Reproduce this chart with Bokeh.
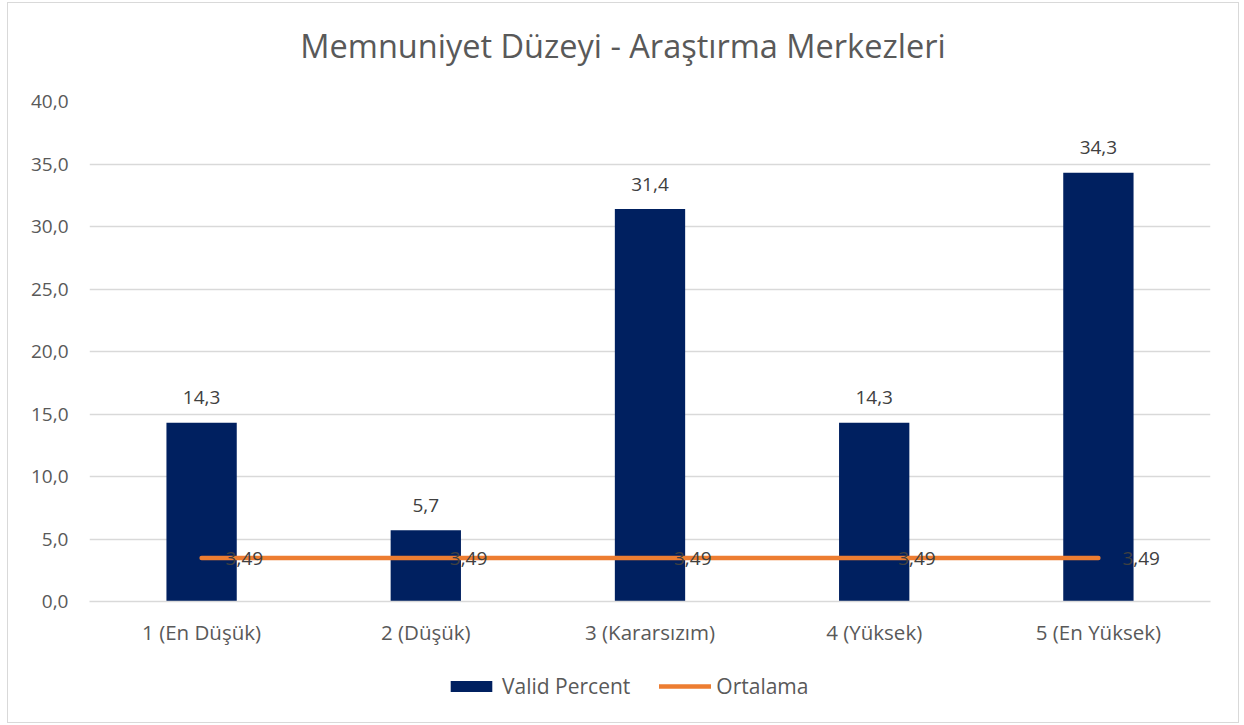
from bokeh.plotting import figure
from bokeh.layouts import column
from bokeh.models import (ColumnDataSource, FactorRange, Legend, LegendItem, CustomJSTickFormatter,
                          FixedTicker, Range1d, Div)
from bokeh.core.properties import value
from bokeh.embed import file_html
from bokeh.resources import INLINE

categories = ["1 (En Düşük)", "2 (Düşük)", "3 (Kararsızım)", "4 (Yüksek)", "5 (En Yüksek)"]
valid_percent = [14.3, 5.7, 31.4, 14.3, 34.3]
ortalama = [3.49, 3.49, 3.49, 3.49, 3.49]
y_ticks = [0, 5, 10, 15, 20, 25, 30, 35, 40]
title_text = "Memnuniyet Düzeyi - Araştırma Merkezleri"

FONT = "Open Sans"
GRAY = "#595959"
LABEL = "#404040"
BAR = "#002060"
ORANGE = "#ED7D31"

src = ColumnDataSource(dict(
    cat=categories,
    vp=valid_percent,
    vp_lbl=[f"{v:.1f}".replace(".", ",") for v in valid_percent],
    avg=ortalama,
    avg_lbl=[f"{v:.2f}".replace(".", ",") for v in ortalama],
))

# title strip
title = Div(text=title_text, width=1230, height=70, margin=0,
            styles={"font-family": FONT, "font-size": "32.5px", "color": GRAY,
                    "text-align": "center", "line-height": "86px", "white-space": "nowrap"})

p = figure(x_range=FactorRange(*categories), y_range=Range1d(0, 40),
           width=1230, height=580, output_backend="svg", toolbar_location=None,
           min_border_left=81, min_border_right=28, min_border_top=28, min_border_bottom=52)
p.outline_line_color = None
p.background_fill_color = "white"
p.border_fill_color = "white"

p.vbar(x="cat", top="vp", width=0.3136, source=src, fill_color=BAR, line_color=None)
p.line(x="cat", y="avg", source=src, line_width=4.5, line_cap="round", color=ORANGE)

p.text(x="cat", y="vp", text="vp_lbl", source=src, y_offset=-25, text_align="center",
       text_baseline="middle", text_font=value(FONT), text_font_size="19px", text_color=LABEL)
p.text(x="cat", y="avg", text="avg_lbl", source=src, x_offset=24, y_offset=1, text_align="left",
       text_baseline="middle", text_font=value(FONT), text_font_size="19px", text_color=LABEL)

p.xgrid.grid_line_color = None
p.ygrid.grid_line_color = "#d9d9d9"
p.ygrid.grid_line_width = 1.3

p.yaxis.ticker = FixedTicker(ticks=y_ticks)
p.yaxis.formatter = CustomJSTickFormatter(code="return tick.toFixed(1).replace('.', ',');")
p.yaxis.axis_line_color = None
p.yaxis.major_tick_line_color = None
p.yaxis.minor_tick_line_color = None
p.yaxis.major_label_standoff = 15
p.yaxis.major_label_text_font = FONT
p.yaxis.major_label_text_font_size = "19px"
p.yaxis.major_label_text_color = GRAY

p.xaxis.axis_line_color = "#d9d9d9"
p.xaxis.axis_line_width = 1.3
p.xaxis.major_tick_line_color = None
p.xaxis.minor_tick_line_color = None
p.xaxis.major_label_standoff = 10
p.xaxis.major_label_text_font = FONT
p.xaxis.major_label_text_font_size = "20.5px"
p.xaxis.major_label_text_color = GRAY

# legend strip: same series drawn out of view, used only for the legend keys
lf = figure(width=1230, height=69, output_backend="svg", toolbar_location=None,
            x_axis_type=None, y_axis_type=None, x_range=p.x_range, y_range=Range1d(50, 51),
            min_border=0)
lf.outline_line_color = None
lf.grid.visible = False
leg_bar = lf.vbar(x="cat", top="vp", width=0.3136, source=src, fill_color=BAR, line_color=None)
leg_line = lf.line(x="cat", y="avg", source=src, line_width=4.5, line_cap="round", color=ORANGE)
legend = Legend(items=[LegendItem(label="Valid Percent", renderers=[leg_bar]),
                       LegendItem(label="Ortalama", renderers=[leg_line])],
                location=(356, 22), orientation="horizontal",
                glyph_width=52, glyph_height=14, label_standoff=5, spacing=29,
                padding=0, margin=0, border_line_color=None, background_fill_alpha=0,
                label_text_font=FONT, label_text_font_size="21px", label_text_color=GRAY)
lf.add_layout(legend, "center")

layout = column(title, p, lf, spacing=0)
layout.styles = {"border": "1px solid #d9d9d9", "margin-left": "7px", "margin-top": "2px"}

open("out.html", "w").write(file_html(layout, INLINE))
